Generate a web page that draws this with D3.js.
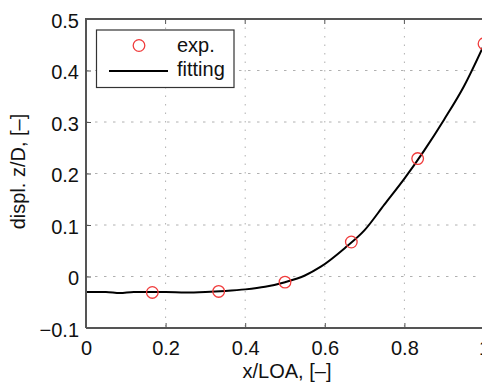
<!DOCTYPE html>
<html><head><meta charset="utf-8">
<script src="https://cdn.jsdelivr.net/npm/d3@7"></script>
<style>body{margin:0;background:#fff}svg{display:block}text{font-family:"Liberation Sans",Arial,sans-serif}</style>
</head><body><svg id="c" width="482" height="383"></svg>
<script>
const expX = [1/6, 2/6, 3/6, 4/6, 5/6, 1.0];
const expY = [-0.031, -0.029, -0.011, 0.067, 0.229, 0.452];
const fitX = [0, 0.05, 0.085, 0.12, 0.2, 0.25, 0.3, 0.35, 0.4, 0.45, 0.5, 0.55, 0.59, 0.65, 0.7, 0.75, 0.8, 0.85, 0.9, 0.95, 1.0];
const fitY = [-0.030, -0.030, -0.032, -0.030, -0.030, -0.031, -0.030, -0.028, -0.025, -0.020, -0.011, 0.002, 0.019, 0.055, 0.090, 0.140, 0.190, 0.245, 0.305, 0.370, 0.450];
const xTicks = [0, 0.2, 0.4, 0.6, 0.8, 1];
const yTicks = [-0.1, 0, 0.1, 0.2, 0.3, 0.4, 0.5];
const xTickLabels = ["0", "0.2", "0.4", "0.6", "0.8", "1"];
const yTickLabels = ["\u22120.1", "0", "0.1", "0.2", "0.3", "0.4", "0.5"];
const legendLabels = ["exp.", "fitting"];

const svg = d3.select("#c");
const L = 86, R = 484, T = 19, B = 328;
const x = d3.scaleLinear().domain([0, 1]).range([L, R]);
const y = d3.scaleLinear().domain([-0.1, 0.5]).range([B, T]);
const fs = 20;
const axisCol = "#555";

// grid
const g = svg.append("g");
g.selectAll("line.gx").data(xTicks.filter(d => d > 0 && d < 1)).enter().append("line")
  .attr("x1", d => x(d)).attr("x2", d => x(d)).attr("y1", T).attr("y2", B)
  .attr("stroke", "#b0b0b0").attr("stroke-width", 1).attr("stroke-dasharray", "1.5,7");
g.selectAll("line.gy").data(yTicks.filter(d => d > -0.1 && d < 0.5)).enter().append("line")
  .attr("y1", d => y(d)).attr("y2", d => y(d)).attr("x1", L).attr("x2", R)
  .attr("stroke", "#b0b0b0").attr("stroke-width", 1).attr("stroke-dasharray", "2.5,6.5");

// fitting line
const pts = fitX.map((v, i) => [v, fitY[i]]);
svg.append("path").datum(pts)
  .attr("d", d3.line().x(d => x(d[0])).y(d => y(d[1])).curve(d3.curveMonotoneX))
  .attr("fill", "none").attr("stroke", "#000").attr("stroke-width", 2);

// exp circles
svg.selectAll("circle.e").data(expX.map((v, i) => [v, expY[i]])).enter().append("circle")
  .attr("cx", d => x(d[0])).attr("cy", d => y(d[1])).attr("r", 5.8)
  .attr("fill", "none").attr("stroke", "#f03c3c").attr("stroke-width", 1.3);

// axes (left and bottom) using d3 axis
const ax = svg.append("g").attr("transform", `translate(0,${B})`)
  .call(d3.axisBottom(x).tickValues(xTicks).tickSize(-5).tickPadding(27).tickFormat((d, i) => xTickLabels[i]));
const ay = svg.append("g").attr("transform", `translate(${L},0)`)
  .call(d3.axisLeft(y).tickValues(yTicks).tickSize(-5).tickPadding(7).tickFormat((d, i) => yTickLabels[i]));
[ax, ay].forEach(a => {
  a.select(".domain").attr("stroke", axisCol).attr("stroke-width", 2);
  a.selectAll(".tick line").attr("stroke", axisCol).attr("stroke-width", 1);
  a.selectAll(".tick text").attr("font-size", fs).attr("fill", "#111")
    .attr("font-family", "Liberation Sans, Arial, sans-serif");
});
ax.select(".domain").attr("d", `M${L},0H${R}`);
ay.select(".domain").attr("d", `M0,${B}V${T}`);
ax.selectAll(".tick text").attr("dy", "0");
ay.selectAll(".tick text").attr("dy", "0.4em");
// top border and top ticks
svg.append("line").attr("x1", L - 1).attr("x2", R).attr("y1", T).attr("y2", T)
  .attr("stroke", axisCol).attr("stroke-width", 2);
svg.selectAll("line.tt").data(xTicks).enter().append("line")
  .attr("x1", d => x(d)).attr("x2", d => x(d)).attr("y1", T).attr("y2", T + 5)
  .attr("stroke", axisCol).attr("stroke-width", 1);

// axis titles
svg.append("text").attr("x", 287).attr("y", 377.5).attr("text-anchor", "middle")
  .attr("font-size", fs).attr("fill", "#111").text("x/LOA, [\u2013]");
svg.append("text").attr("transform", `translate(25,${(T + B) / 2 - 2}) rotate(-90)`)
  .attr("text-anchor", "middle").attr("font-size", fs).attr("fill", "#111").text("displ. z/D, [\u2013]");

// legend
const lg = svg.append("g");
lg.append("rect").attr("x", 96.5).attr("y", 30).attr("width", 137.5).attr("height", 57.5)
  .attr("fill", "#fff").attr("stroke", "#333").attr("stroke-width", 1.2);
lg.append("circle").attr("cx", 139).attr("cy", 45.5).attr("r", 5.8)
  .attr("fill", "none").attr("stroke", "#f03c3c").attr("stroke-width", 1.3);
lg.append("line").attr("x1", 109).attr("x2", 168).attr("y1", 71).attr("y2", 71)
  .attr("stroke", "#000").attr("stroke-width", 2);
lg.selectAll("text").data(legendLabels).enter().append("text")
  .attr("x", 177).attr("y", (d, i) => 52 + i * 24).attr("font-size", fs).attr("fill", "#111").text(d => d);
</script></body></html>
